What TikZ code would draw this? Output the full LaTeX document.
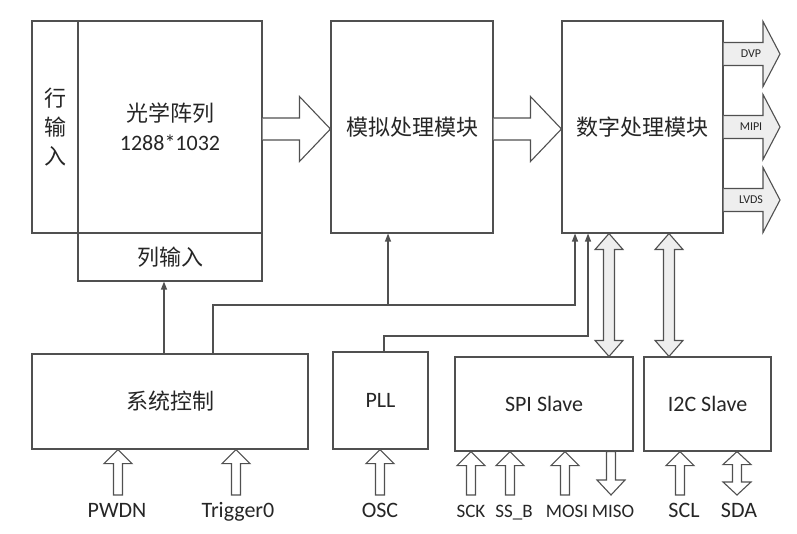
\documentclass[tikz,border=0pt]{standalone}
\usepackage{fontspec}
\setmainfont{Carlito}
\newfontfamily\cjk{Noto Sans CJK SC}
\usetikzlibrary{arrows.meta,calc}
\definecolor{ln}{HTML}{505050}
\definecolor{tx}{HTML}{262626}
\definecolor{lg}{HTML}{EEEEEE}
% horizontal block arrow: #2 start point (gives y), #3 tip point (gives x)
\newcommand\harrow[6][white]{%
  \draw[blockline,fill=#1] let \p1=#2, \p2=#3 in
    (\x1,\y1+#5) -- (\x2-#4,\y1+#5) -- (\x2-#4,\y1+#6) -- (\x2,\y1)
    -- (\x2-#4,\y1-#6) -- (\x2-#4,\y1-#5) -- (\x1,\y1-#5);}
% up arrow: #2 tip (top), #3 tail (bottom)
\newcommand\uparr[6][white]{%
  \draw[blockline,fill=#1] let \p1=#2, \p2=#3 in
    (\x1-#5,\y2) -- (\x1-#5,\y1-#4) -- (\x1-#6,\y1-#4) -- (\x1,\y1)
    -- (\x1+#6,\y1-#4) -- (\x1+#5,\y1-#4) -- (\x1+#5,\y2) -- cycle;}
% down arrow: #2 tail (top), #3 tip (bottom)
\newcommand\downarr[6][white]{%
  \draw[blockline,fill=#1] let \p1=#2, \p2=#3 in
    (\x2-#5,\y1) -- (\x2-#5,\y2+#4) -- (\x2-#6,\y2+#4) -- (\x2,\y2)
    -- (\x2+#6,\y2+#4) -- (\x2+#5,\y2+#4) -- (\x2+#5,\y1) -- cycle;}
% double arrow: #2 top tip, #3 bottom tip
\newcommand\dblarr[6][white]{%
  \draw[blockline,fill=#1] let \p1=#2, \p2=#3 in
    (\x1,\y1) -- (\x1+#6,\y1-#4) -- (\x1+#5,\y1-#4) -- (\x1+#5,\y2+#4)
    -- (\x1+#6,\y2+#4) -- (\x1,\y2) -- (\x1-#6,\y2+#4) -- (\x1-#5,\y2+#4)
    -- (\x1-#5,\y1-#4) -- (\x1-#6,\y1-#4) -- cycle;}
\begin{document}
\begin{tikzpicture}[x=1pt,y=-1pt,
  box/.style={draw=ln,line width=1.1pt,fill=white,inner sep=0pt,text=tx,
    font=\fontsize{22}{29}\selectfont,align=center},
  cjkbox/.style={box,font=\fontsize{22}{29}\selectfont\cjk},
  sig/.style={draw=ln,line width=1.1pt,-{Triangle[length=8pt,width=6pt]}},
  blockline/.style={draw=ln,line width=1.1pt,line join=miter},
  pinlbl/.style={text=tx,anchor=base,inner sep=0pt,font=\fontsize{22}{26}\selectfont},
  spilbl/.style={text=tx,anchor=base,inner sep=0pt,font=\fontsize{19}{23}\selectfont},
  outlbl/.style={text=tx,inner sep=0pt,font=\fontsize{12}{14}\selectfont}]
\fill[white] (0,0) rectangle (797,534);
\useasboundingbox (0,0) rectangle (797,534);

% boxes
\node[cjkbox,minimum width=46pt,minimum height=212pt] (row) at (55,127) {行\\输\\入};
\node[box,minimum width=184pt,minimum height=212pt] (arr) at (170,127) {{\cjk 光学阵列}\\1288*1032};
\node[cjkbox,minimum width=184pt,minimum height=48pt] (col) at (170,257) {列输入};
\node[cjkbox,minimum width=162pt,minimum height=212pt] (ana) at (412,127) {模拟处理模块};
\node[cjkbox,minimum width=161pt,minimum height=212pt] (dig) at (642.5,127) {数字处理模块};
\node[cjkbox,minimum width=276pt,minimum height=95pt] (sys) at (170,401.5) {系统控制};
\node[box,minimum width=95pt,minimum height=97pt] (pll) at (380.5,400.5) {PLL};
\node[box,minimum width=178pt,minimum height=94pt] (spi) at (544,404) {SPI Slave};
\node[box,minimum width=127pt,minimum height=94pt] (i2c) at (707.5,404) {I2C Slave};

% signal lines
\draw[sig] ([xshift=-6pt]sys.north) -- ([xshift=-6pt]col.south);
\coordinate (j1) at (213,305);
\coordinate (j2) at (388,305);
\coordinate (d1) at (575,305);
\draw[sig] (j1 |- sys.north) -- (j1) -- (d1) -- (d1 |- dig.south);
\draw[sig] (j2) -- (j2 |- ana.south);
\coordinate (p1) at (384,336);
\coordinate (d2) at (588,336);
\draw[sig] (p1 |- pll.north) -- (p1) -- (d2) -- (d2 |- dig.south);

% big data arrows
\harrow{([yshift=-2pt]arr.east)}{(ana.west)}{31pt}{11pt}{32.5pt}
\harrow{([yshift=-2pt]ana.east)}{(dig.west)}{31pt}{11pt}{32.5pt}

% output arrows
\coordinate (otip) at (780,0);
\coordinate (yd) at (0,54);
\coordinate (ym) at (0,127);
\coordinate (yl) at (0,200);
\harrow[lg]{(dig.east |- yd)}{(otip)}{17pt}{11.5pt}{32.5pt}
\harrow[lg]{(dig.east |- ym)}{(otip)}{17pt}{11.5pt}{32.5pt}
\harrow[lg]{(dig.east |- yl)}{(otip)}{17pt}{11.5pt}{32.5pt}
\node[outlbl] (dvp) at (751,54) {DVP};
\node[outlbl] (mipi) at (751,127) {MIPI};
\node[outlbl] (lvds) at (751,200) {LVDS};

% bus arrows
\coordinate (s1) at (609,0);
\coordinate (i1) at (669,0);
\dblarr[lg]{(s1 |- dig.south)}{(s1 |- spi.north)}{16pt}{5.5pt}{14pt}
\dblarr[lg]{(i1 |- dig.south)}{(i1 |- i2c.north)}{16pt}{5.5pt}{14pt}

% pin arrows
\coordinate (a-pwdn) at (118,495);
\coordinate (a-trig) at (236,495);
\coordinate (a-osc) at (380,495);
\coordinate (a-sck) at (471,495);
\coordinate (a-ssb) at (510,495);
\coordinate (a-mosi) at (565,495);
\coordinate (a-miso) at (611,495);
\coordinate (a-scl) at (680,495);
\coordinate (a-sda) at (737,495);
\uparr{(a-pwdn |- sys.south)}{(a-pwdn)}{14pt}{4.5pt}{14pt}
\uparr{(a-trig |- sys.south)}{(a-trig)}{14pt}{4.5pt}{14pt}
\uparr{(a-osc |- pll.south)}{(a-osc)}{14pt}{4.5pt}{14pt}
\uparr{(a-sck |- spi.south)}{(a-sck)}{14pt}{4.5pt}{14pt}
\uparr{(a-ssb |- spi.south)}{(a-ssb)}{14pt}{4.5pt}{14pt}
\uparr{(a-mosi |- spi.south)}{(a-mosi)}{14pt}{4.5pt}{14pt}
\downarr{(a-miso |- spi.south)}{(a-miso)}{15pt}{4.5pt}{14pt}
\uparr{(a-scl |- i2c.south)}{(a-scl)}{14pt}{4.5pt}{14pt}
\dblarr{(a-sda |- i2c.south)}{(a-sda)}{13pt}{4.5pt}{14pt}

% pin labels
\node[pinlbl] (pwdn) at (117,517) {PWDN};
\node[pinlbl] (trig) at (238,517) {Trigger0};
\node[pinlbl] (osc) at (380,517) {OSC};
\node[spilbl] (sck) at (471,517) {SCK};
\node[spilbl] (ssb) at (514,517) {SS\_B};
\node[spilbl] (mosi) at (567,517) {MOSI};
\node[spilbl] (miso) at (613,517) {MISO};
\node[pinlbl] (scl) at (684,517) {SCL};
\node[pinlbl] (sda) at (739,517) {SDA};
\end{tikzpicture}
\end{document}
